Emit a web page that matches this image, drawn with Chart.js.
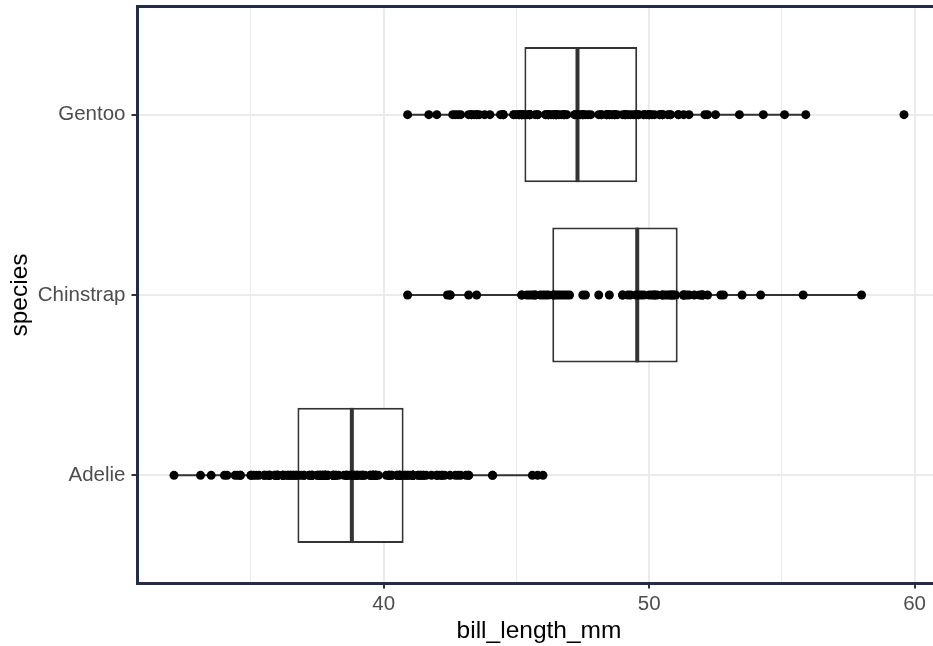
<!DOCTYPE html>
<html>
<head>
<meta charset="utf-8">
<script src="https://cdn.jsdelivr.net/npm/chart.js@4.4.1/dist/chart.umd.min.js"></script>
<style>
  html, body { margin: 0; padding: 0; overflow: hidden; background: #fff; }
  #wrap { width: 945px; height: 646px; }
</style>
</head>
<body>
<div id="wrap"><canvas id="chart" width="945" height="646"></canvas></div>
<script>
// --- dados ---
const species = ['Adelie', 'Chinstrap', 'Gentoo']; // 1, 2, 3 de baixo para cima
const q1 = [36.75, 46.35, 45.3];
const median = [38.8, 49.55, 47.3];
const q3 = [40.75, 51.075, 49.55];
const whiskerLow = [32.1, 40.9, 40.9];
const whiskerHigh = [46.0, 58.0, 55.9];
const xRange = [30.725, 60.975];
const xTicks = [35, 40, 45, 50, 55, 60];   // 40/50/60 com rótulo, o resto só grade menor
const yTicks = [1, 2, 3];

const adelie = [39.1, 39.5, 40.3, 36.7, 39.3, 38.9, 39.2, 34.1, 42.0, 37.8, 37.8, 41.1, 38.6, 34.6, 36.6, 38.7,
  42.5, 34.4, 46.0, 37.8, 37.7, 35.9, 38.2, 38.8, 35.3, 40.6, 40.5, 37.9, 40.5, 39.5, 37.2, 39.5, 40.9, 36.4,
  39.2, 38.8, 42.2, 37.6, 39.8, 36.5, 40.8, 36.0, 44.1, 37.0, 39.6, 41.1, 37.5, 36.0, 42.3, 39.6, 40.1, 35.0,
  42.0, 34.5, 41.4, 39.0, 40.6, 36.5, 37.6, 35.7, 41.3, 37.6, 41.1, 36.4, 41.6, 35.5, 41.1, 35.9, 41.8, 33.5,
  39.7, 39.6, 45.8, 35.5, 42.8, 40.9, 37.2, 36.2, 42.1, 34.6, 42.9, 36.7, 35.1, 37.3, 41.3, 36.3, 36.9, 38.3,
  38.9, 35.7, 41.1, 34.0, 39.6, 36.2, 40.8, 38.1, 40.3, 33.1, 43.2, 35.0, 41.0, 37.7, 37.8, 37.9, 39.7, 38.6,
  38.2, 38.1, 43.2, 38.1, 45.6, 39.7, 42.2, 39.6, 42.7, 38.6, 37.3, 35.7, 41.1, 36.2, 37.7, 40.2, 41.4, 35.2,
  40.6, 38.8, 41.5, 39.0, 44.1, 38.5, 43.1, 36.8, 37.5, 38.1, 41.1, 35.6, 40.2, 37.0, 39.7, 40.2, 40.6, 32.1,
  40.7, 37.3, 39.0, 39.2, 36.6, 36.0, 37.8, 36.0, 41.5];
const chinstrap = [46.5, 50.0, 51.3, 45.4, 52.7, 45.2, 46.1, 51.3, 46.0, 51.3, 46.6, 51.7, 47.0, 52.0, 45.9, 50.5,
  50.3, 58.0, 46.4, 49.2, 42.4, 48.5, 43.2, 50.6, 46.7, 52.0, 50.5, 49.5, 46.4, 52.8, 40.9, 54.2, 42.5, 51.0,
  49.7, 47.5, 47.6, 52.0, 46.9, 53.5, 49.0, 46.2, 50.9, 45.5, 50.9, 50.8, 50.1, 49.0, 51.5, 49.8, 48.1, 51.4,
  45.7, 50.7, 42.5, 52.2, 45.2, 49.3, 50.2, 45.6, 51.9, 46.8, 45.7, 55.8, 43.5, 49.6, 50.8, 50.2];
const gentoo = [46.1, 50.0, 48.7, 50.0, 47.6, 46.5, 45.4, 46.7, 43.3, 46.8, 40.9, 49.0, 45.5, 48.4, 45.8, 49.3,
  42.0, 49.2, 46.2, 48.7, 50.2, 45.1, 46.5, 46.3, 42.9, 46.1, 44.5, 47.8, 48.2, 50.0, 47.3, 42.8, 45.1, 59.6,
  49.1, 48.4, 42.6, 44.4, 44.0, 48.7, 42.7, 49.6, 45.3, 49.6, 50.5, 43.6, 45.5, 50.5, 44.9, 45.2, 46.6, 48.5,
  45.1, 50.1, 46.5, 45.0, 43.8, 45.5, 43.2, 50.4, 45.3, 46.2, 45.7, 54.3, 45.8, 49.8, 46.2, 49.5, 43.5, 50.7,
  47.7, 46.4, 48.2, 46.5, 46.4, 48.6, 47.5, 51.1, 45.2, 45.2, 49.1, 52.5, 47.4, 50.0, 44.9, 50.8, 43.4, 51.3,
  47.5, 52.1, 47.5, 52.2, 45.5, 49.5, 44.5, 50.8, 49.4, 46.9, 48.4, 51.1, 48.5, 55.9, 47.2, 49.1, 47.3, 46.8,
  41.7, 53.4, 43.3, 48.1, 50.5, 49.8, 43.5, 51.5, 46.2, 55.1, 44.5, 48.8, 47.2, 46.8, 50.4, 45.2, 49.9];
const pointsBySpecies = [adelie, chinstrap, gentoo];

// --- estilos ---
const INK = '#333333';
const GRID = '#ebebeb';
const FRAME = '#232c4d';
const FONT = "'Liberation Sans', Arial, sans-serif";

const datasets = [];

// pontos (por cima de tudo)
pointsBySpecies.forEach(function (vals, i) {
    datasets.push({
        type: 'scatter',
        data: vals.map(v => ({ x: v, y: i + 1 })),
        backgroundColor: '#000000',
        borderWidth: 0,
        pointRadius: 4.5,
        order: 0
    });
});

const barBase = {
    type: 'bar',
    borderColor: INK,
    borderSkipped: false,
    grouped: false,
    categoryPercentage: 1,
    barPercentage: 0.75
};

// mediana: duas metades transparentes; inflateAmount faz as bordas se sobreporem (linha de ~4px)
datasets.push(Object.assign({}, barBase, {
    data: species.map((s, i) => ({ y: i + 1, x: [q1[i], median[i]] })),
    backgroundColor: 'rgba(0,0,0,0)',
    borderWidth: { left: 0, top: 0, bottom: 0, right: 1 },
    inflateAmount: 1,
    order: 1
}));
datasets.push(Object.assign({}, barBase, {
    data: species.map((s, i) => ({ y: i + 1, x: [median[i], q3[i]] })),
    backgroundColor: 'rgba(0,0,0,0)',
    borderWidth: { left: 1, top: 0, bottom: 0, right: 0 },
    inflateAmount: 1,
    order: 1
}));

// caixa inteira Q1-Q3
datasets.push(Object.assign({}, barBase, {
    data: species.map((s, i) => ({ y: i + 1, x: [q1[i], q3[i]] })),
    backgroundColor: '#ffffff',
    borderWidth: 2,
    order: 2
}));

// bigodes
species.forEach(function (s, i) {
    datasets.push({
        type: 'line',
        data: [{ x: whiskerLow[i], y: i + 1 }, { x: whiskerHigh[i], y: i + 1 }],
        borderColor: INK,
        borderWidth: 2,
        pointRadius: 0,
        fill: false,
        order: 3
    });
});

// moldura do painel
const panelFrame = {
    id: 'panelFrame',
    afterDraw(chart) {
        const a = chart.chartArea;
        const ctx = chart.ctx;
        ctx.save();
        ctx.strokeStyle = FRAME;
        ctx.lineWidth = 3;
        ctx.strokeRect(a.left, a.top, a.right - a.left, a.bottom - a.top);
        ctx.restore();
    }
};

new Chart(document.getElementById('chart'), {
    type: 'bar',
    data: { datasets: datasets },
    plugins: [panelFrame],
    options: {
        indexAxis: 'y',
        responsive: false,
        animation: false,
        layout: { padding: { top: 6.5, right: 3.5, left: 0, bottom: 0 } },
        plugins: {
            legend: { display: false },
            tooltip: { enabled: false }
        },
        scales: {
            x: {
                type: 'linear',
                min: xRange[0],
                max: xRange[1],
                offset: false,
                afterBuildTicks: s => { s.ticks = xTicks.map(v => ({ value: v })); },
                afterFit: s => { s.height = 62.5; s.paddingLeft = 0; s.paddingRight = 0; },
                border: { display: false },
                grid: {
                    offset: false,
                    color: GRID,
                    lineWidth: c => (c.tick && c.tick.value % 10 === 0) ? 2 : 1,
                    tickColor: c => (c.tick && c.tick.value % 10 === 0) ? INK : 'rgba(0,0,0,0)',
                    tickWidth: 2,
                    tickLength: 5
                },
                ticks: {
                    autoSkip: false,
                    maxRotation: 0,
                    padding: 4,
                    color: '#4d4d4d',
                    font: { family: FONT, size: 20.5 },
                    callback: v => (v % 10 === 0 ? v : '')
                },
                title: {
                    display: true,
                    text: 'bill_length_mm',
                    color: '#000000',
                    padding: { top: 0, bottom: 0 },
                    font: { family: FONT, size: 24.5 }
                }
            },
            y: {
                type: 'linear',
                min: 0.4,
                max: 3.6,
                offset: false,
                afterBuildTicks: s => { s.ticks = yTicks.map(v => ({ value: v })); },
                afterFit: s => { s.width = 137.5; s.paddingTop = 0; s.paddingBottom = 0; },
                border: { display: false },
                grid: {
                    offset: false,
                    color: GRID,
                    lineWidth: 2,
                    tickColor: INK,
                    tickWidth: 2,
                    tickLength: 6
                },
                ticks: {
                    autoSkip: false,
                    padding: 6,
                    color: '#4d4d4d',
                    font: { family: FONT, size: 20.5 },
                    callback: v => species[v - 1]
                },
                title: {
                    display: true,
                    text: 'species',
                    color: '#000000',
                    padding: { top: 6, bottom: 0 },
                    font: { family: FONT, size: 24.5 }
                }
            }
        }
    }
});
</script>
</body>
</html>
